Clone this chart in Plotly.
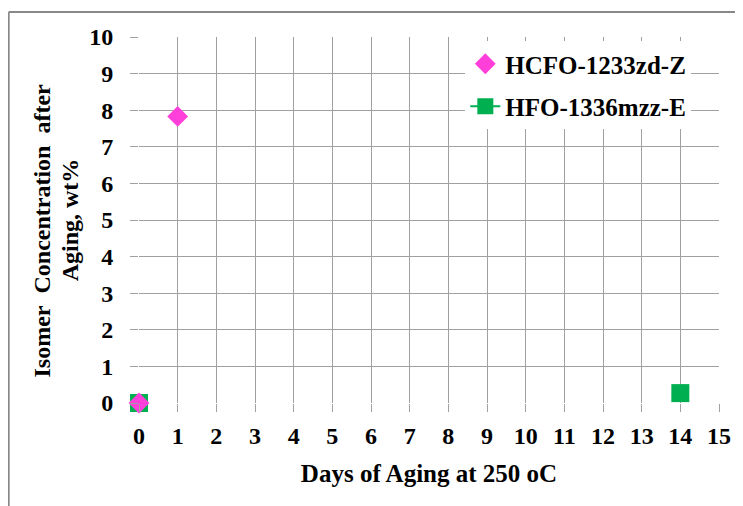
import plotly.graph_objects as go

days_z = [0, 1]
conc_z = [0.0, 7.83]
days_e = [0, None, 14]
conc_e = [0.0, None, 0.27]
x_ticks = list(range(0, 16))
y_ticks = list(range(0, 11))
name_z = "HCFO-1233zd-Z"
name_e = "HFO-1336mzz-E"
x_title = "Days of Aging at 250 oC"
y_title_1 = "Isomer\u00a0 Concentration\u00a0 after"
y_title_2 = "Aging, wt%"

FONT = "Liberation Serif, Times New Roman, serif"
GRID = "#a0a0a0"
OFF = 8  # page body margin

fig = go.Figure()
fig.add_trace(go.Scatter(
    x=days_e, y=conc_e, name=name_e, mode="lines+markers",
    connectgaps=False, cliponaxis=False, legendgroup="e", legendrank=2,
    line=dict(color="#00B050", width=2),
    marker=dict(symbol="square", size=18, color="#00B050"),
))
fig.add_trace(go.Scatter(
    x=days_z, y=conc_z, name=name_z, mode="markers", cliponaxis=False,
    legendgroup="z", legendrank=1,
    marker=dict(symbol="diamond", size=16, color="#FF3FD9"),
))

# target page pixel geometry of plot area
PL, PR, PT, PB = 139, 722, 37, 403
W, H = 743 - OFF, 506 - OFF
L, T = PL - OFF, PT - OFF
R = W - (PR - OFF)
B = H - (PB - OFF)
pw, ph = PR - PL, PB - PT

def px_x(p):
    return (p - PL) / pw

def px_y(p):
    return (PB - p) / ph

fig.update_layout(
    width=W, height=H,
    margin=dict(l=L, r=R, t=T, b=B),
    paper_bgcolor="white", plot_bgcolor="white",
    font=dict(family=FONT, size=25, color="black"),
    showlegend=True,
    legend=dict(
        x=px_x(467), y=px_y(41), xanchor="left", yanchor="top",
        bgcolor="white", borderwidth=0, traceorder="grouped",
        font=dict(family=FONT, size=25, color="black", weight="bold"),
        tracegroupgap=7,
    ),
    xaxis=dict(
        range=[0, 15], tickvals=x_ticks, ticktext=[str(v) for v in x_ticks],
        showgrid=True, gridcolor=GRID, gridwidth=1,
        ticks="outside", ticklen=8, tickcolor=GRID, tickwidth=1,
        showline=False, zeroline=False,
        tickfont=dict(family=FONT, size=24, color="black", weight="bold"),
        ticklabelstandoff=3,
        title=dict(text="<b>" + x_title + "</b>", standoff=16,
                   font=dict(family=FONT, size=25, color="black")),
    ),
    yaxis=dict(
        range=[0, 10], tickvals=y_ticks, ticktext=[str(v) for v in y_ticks],
        showgrid=True, gridcolor=GRID, gridwidth=1,
        ticks="outside", ticklen=8, tickcolor=GRID, tickwidth=1,
        showline=False, zeroline=False,
        tickfont=dict(family=FONT, size=24, color="black", weight="bold"),
        ticklabelstandoff=12,
    ),
    annotations=[
        dict(text="<b>" + y_title_1 + "</b>", textangle=-90, xref="paper", yref="paper",
             x=px_x(41), y=px_y(231), xanchor="center", yanchor="middle",
             showarrow=False, font=dict(family=FONT, size=24, color="black")),
        dict(text="<b>" + y_title_2 + "</b>", textangle=-90, xref="paper", yref="paper",
             x=px_x(70), y=px_y(220), xanchor="center", yanchor="middle",
             showarrow=False, font=dict(family=FONT, size=24, color="black")),
    ],
    shapes=[
        dict(type="line", xref="paper", yref="paper", x0=px_x(8), x1=px_x(8),
             y0=px_y(12), y1=px_y(520), line=dict(color="#888888", width=2)),
        dict(type="line", xref="paper", yref="paper", x0=px_x(8), x1=px_x(760),
             y0=px_y(12), y1=px_y(12), line=dict(color="#888888", width=2)),
    ],
)

fig.write_html("out.html")
